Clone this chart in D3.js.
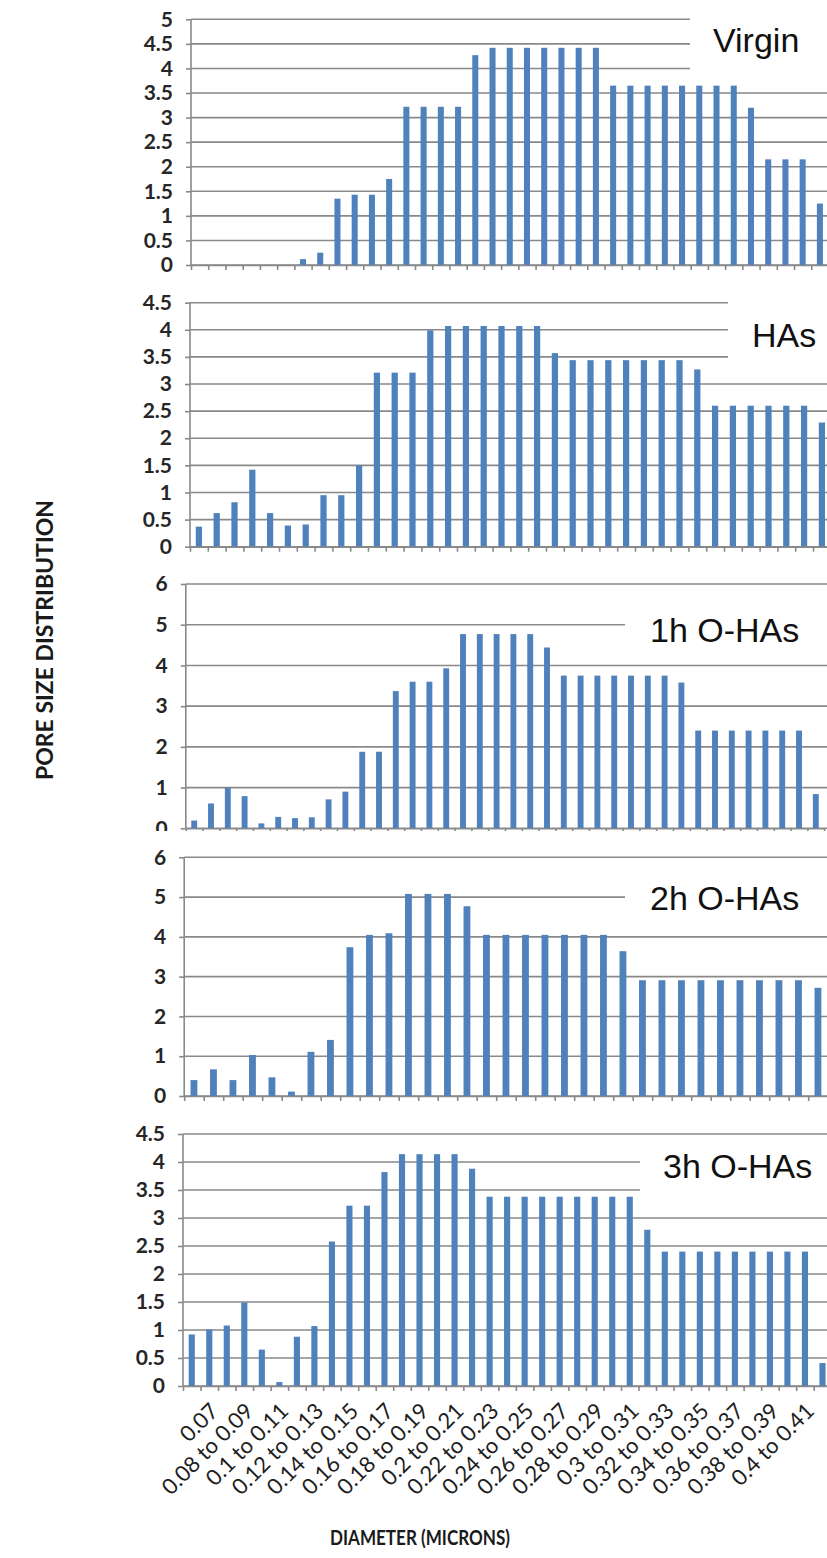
<!DOCTYPE html>
<html>
<head>
<meta charset="utf-8">
<script src="https://cdn.jsdelivr.net/npm/d3@7"></script>
<style>
  html, body { margin: 0; padding: 0; background: #fff; }
  svg { display: block; }
</style>
</head>
<body>
<script>
// ---------------- DATA ----------------
const panelNames = ["Virgin", "HAs", "1h O-HAs", "2h O-HAs", "3h O-HAs"];

const virgin = [0, 0, 0, 0, 0, 0, 0.12, 0.25, 1.35, 1.43, 1.43, 1.75, 3.22, 3.22, 3.22, 3.22, 4.27,
  4.42, 4.42, 4.42, 4.42, 4.42, 4.42, 4.42, 3.65, 3.65, 3.65, 3.65, 3.65, 3.65, 3.65, 3.65,
  3.2, 2.15, 2.15, 2.15, 1.25];

const has = [0.37, 0.62, 0.82, 1.42, 0.62, 0.39, 0.41, 0.95, 0.95, 1.5, 3.21, 3.21, 3.21, 3.99,
  4.07, 4.07, 4.07, 4.07, 4.07, 4.07, 3.57, 3.44, 3.44, 3.44, 3.44, 3.44, 3.44, 3.44, 3.27,
  2.6, 2.6, 2.6, 2.6, 2.6, 2.6, 2.29];

const oh1 = [0.19, 0.61, 1.0, 0.79, 0.12, 0.28, 0.25, 0.27, 0.71, 0.9, 1.88, 1.88, 3.37, 3.6, 3.6,
  3.93, 4.77, 4.77, 4.77, 4.77, 4.77, 4.44, 3.75, 3.75, 3.75, 3.75, 3.75, 3.75, 3.75, 3.58,
  2.4, 2.4, 2.4, 2.4, 2.4, 2.4, 2.4, 0.84];

const oh2 = [0.4, 0.67, 0.4, 1.03, 0.47, 0.11, 1.11, 1.41, 3.74, 4.05, 4.09, 5.08, 5.08, 5.08,
  4.77, 4.05, 4.05, 4.05, 4.05, 4.05, 4.05, 4.05, 3.64, 2.91, 2.91, 2.91, 2.91, 2.91, 2.91,
  2.91, 2.91, 2.91, 2.72];

const oh3 = [0.92, 1.01, 1.08, 1.49, 0.65, 0.07, 0.88, 1.07, 2.58, 3.22, 3.22, 3.82, 4.14, 4.14,
  4.14, 4.14, 3.88, 3.38, 3.38, 3.38, 3.38, 3.38, 3.38, 3.38, 3.38, 3.38, 2.79, 2.4, 2.4, 2.4,
  2.4, 2.4, 2.4, 2.4, 2.4, 2.4, 0.41];

// categories of the bottom chart (the one carrying the x labels)
const categories = ["0.05 to 0.06", "0.06 to 0.07", "0.07 to 0.08", "0.08 to 0.09", "0.09 to 0.1",
  "0.1 to 0.11", "0.11 to 0.12", "0.12 to 0.13", "0.13 to 0.14", "0.14 to 0.15", "0.15 to 0.16",
  "0.16 to 0.17", "0.17 to 0.18", "0.18 to 0.19", "0.19 to 0.2", "0.2 to 0.21", "0.21 to 0.22",
  "0.22 to 0.23", "0.23 to 0.24", "0.24 to 0.25", "0.25 to 0.26", "0.26 to 0.27", "0.27 to 0.28",
  "0.28 to 0.29", "0.29 to 0.3", "0.3 to 0.31", "0.31 to 0.32", "0.32 to 0.33", "0.33 to 0.34",
  "0.34 to 0.35", "0.35 to 0.36", "0.36 to 0.37", "0.37 to 0.38", "0.38 to 0.39", "0.39 to 0.4",
  "0.4 to 0.41", "0.41 to 0.42"];

// visible tick labels (every other category, first one cropped in the original)
const tickLabels = ["0.07", "0.08 to 0.09", "0.1 to 0.11", "0.12 to 0.13", "0.14 to 0.15",
  "0.16 to 0.17", "0.18 to 0.19", "0.2 to 0.21", "0.22 to 0.23", "0.24 to 0.25", "0.26 to 0.27",
  "0.28 to 0.29", "0.3 to 0.31", "0.32 to 0.33", "0.34 to 0.35", "0.36 to 0.37", "0.38 to 0.39",
  "0.4 to 0.41"];

const yMax = [5, 4.5, 6, 6, 4.5];
const yStep = [0.5, 0.5, 1, 1, 0.5];

const seriesList = [virgin, has, oh1, oh2, oh3];

const xTitle = "DIAMETER (MICRONS)";
const yTitle = "PORE SIZE DISTRIBUTION";

// ---------------- LAYOUT (positions only) ----------------
const W = 827, H = 1558;
const layout = [
  { left: 191.0, step: 17.23, top: 19.3, bottom: 265.0, areaTop: 0,    box: [690, 8, 80],     tx: 713, ty: 52 },
  { left: 190.0, step: 17.80, top: 302.7, bottom: 546.7, areaTop: 276,  box: [728, 290, 370],  tx: 752, ty: 347 },
  { left: 185.8, step: 16.80, top: 584.0, bottom: 828.3, areaTop: 560,  box: [625, 600, 655],  tx: 650, ty: 642 },
  { left: 184.2, step: 19.50, top: 857.3, bottom: 1096.0, areaTop: 831, box: [625, 875, 925],  tx: 650, ty: 910 },
  { left: 183.0, step: 17.52, top: 1134.0, bottom: 1386.0, areaTop: 1110, box: [640, 1145, 1205], tx: 663, ty: 1178 }
];

const GRID = "#898989";
const BAR = "#4f81bd";
const TICKFONT = "Lato, 'Open Sans', sans-serif";

const svg = d3.select("body").append("svg")
  .attr("width", W).attr("height", H)
  .attr("viewBox", `0 0 ${W} ${H}`);

svg.append("rect").attr("width", W).attr("height", H).attr("fill", "#fff");

seriesList.forEach((vals, p) => {
  const L = layout[p];
  const n = vals.length;
  const g = svg.append("g");

  // white background of this chart (crops the previous one)
  g.append("rect").attr("x", 0).attr("y", L.areaTop)
    .attr("width", W).attr("height", H - L.areaTop).attr("fill", "#fff");

  const x = d3.scaleBand().domain(d3.range(n))
    .range([L.left, L.left + n * L.step])
    .paddingInner(0.65).paddingOuter(0.325);
  const xb = d3.scaleLinear().domain([0, n]).range([L.left, L.left + n * L.step]);
  const y = d3.scaleLinear().domain([0, yMax[p]]).range([L.bottom, L.top]);
  const yt = d3.range(0, yMax[p] + 1e-9, yStep[p]);

  // gridlines
  g.append("g").selectAll("line").data(yt).join("line")
    .attr("x1", L.left).attr("x2", W + 5)
    .attr("y1", d => y(d)).attr("y2", d => y(d))
    .attr("stroke", GRID).attr("stroke-width", 1.6);

  // title box (hides gridlines behind the label)
  g.append("rect").attr("x", L.box[0]).attr("y", L.box[1])
    .attr("width", W - L.box[0] + 5).attr("height", L.box[2] - L.box[1])
    .attr("fill", "#fff");

  // y axis
  const ya = g.append("g").attr("transform", `translate(${L.left},0)`)
    .call(d3.axisLeft(y).tickValues(yt).tickSize(5).tickPadding(13).tickFormat(d3.format("~g")));
  ya.select(".domain").remove();
  ya.selectAll(".tick line").attr("stroke", GRID).attr("stroke-width", 1.6);
  ya.selectAll(".tick text")
    .attr("font-family", TICKFONT).attr("font-size", 21).attr("font-weight", 700)
    .attr("fill", "#262626");
  g.append("line").attr("x1", L.left).attr("x2", L.left)
    .attr("y1", L.top).attr("y2", L.bottom)
    .attr("stroke", GRID).attr("stroke-width", 1.6);

  // bars
  g.append("g").selectAll("rect").data(vals).join("rect")
    .attr("x", (d, i) => x(i))
    .attr("width", x.bandwidth())
    .attr("y", d => y(d))
    .attr("height", d => y(0) - y(d))
    .attr("fill", BAR);

  // x axis with category boundary ticks
  const xa = g.append("g").attr("transform", `translate(0,${L.bottom})`)
    .call(d3.axisBottom(xb).tickValues(d3.range(n + 1)).tickSize(5).tickSizeOuter(0).tickFormat(""));
  xa.select(".domain").attr("stroke", GRID).attr("stroke-width", 1.6);
  xa.selectAll(".tick line").attr("stroke", GRID).attr("stroke-width", 1.6);

  // panel title
  g.append("text").attr("x", L.tx).attr("y", L.ty)
    .attr("font-family", "'Liberation Sans', Arial, sans-serif")
    .attr("font-size", 34).attr("fill", "#111")
    .text(panelNames[p]);

  // category labels on the bottom chart
  if (p === seriesList.length - 1) {
    const labIdx = tickLabels.map((t, k) => 2 * k + 1);
    const la = g.append("g").attr("transform", `translate(0,${L.bottom})`)
      .call(d3.axisBottom(x).tickValues(labIdx).tickSize(0)
        .tickFormat(i => tickLabels[(i - 1) / 2]));
    la.select(".domain").remove();
    la.selectAll(".tick text")
      .attr("x", 0).attr("y", 0).attr("dy", "0.35em")
      .attr("text-anchor", "end")
      .attr("transform", "translate(5,21) rotate(-45)")
      .attr("font-family", TICKFONT).attr("font-size", 22).attr("font-weight", 400)
      .attr("fill", "#1e1e1e");
  }
});

// axis titles
svg.append("text")
  .attr("transform", "translate(45,640) rotate(-90)")
  .attr("text-anchor", "middle").attr("dy", "0.35em")
  .attr("font-family", TICKFONT).attr("font-size", 23).attr("font-weight", 700)
  .attr("fill", "#1a1a1a")
  .text(yTitle);

svg.append("text")
  .attr("x", 420).attr("y", 1545)
  .attr("text-anchor", "middle")
  .attr("font-family", TICKFONT).attr("font-size", 20).attr("font-weight", 700)
  .attr("fill", "#1a1a1a")
  .attr("textLength", 180).attr("lengthAdjust", "spacingAndGlyphs")
  .text(xTitle);
</script>
</body>
</html>
